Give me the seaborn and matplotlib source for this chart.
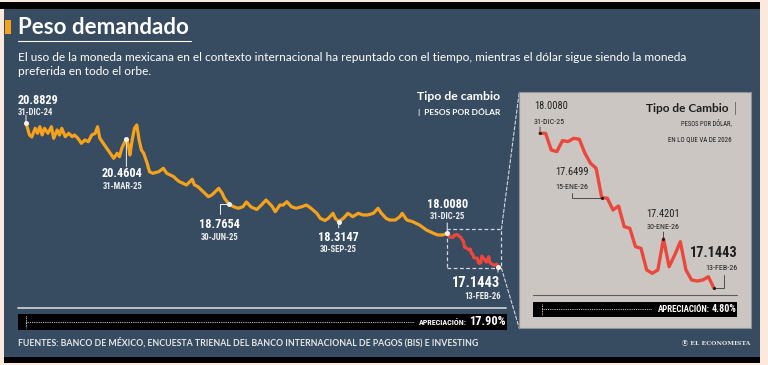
import numpy as np
import pandas as pd
import matplotlib
matplotlib.use("Agg")
import matplotlib.pyplot as plt
import seaborn as sns
from matplotlib.patches import Rectangle, ConnectionPatch
from matplotlib.lines import Line2D

# ---------------- data ----------------
# days since 31-Dec-2024
days_2025 = [0, 3, 5, 8, 10, 12, 14, 16, 19, 22, 24, 27, 29, 31, 34, 37, 40, 42, 45, 48,
             51, 54, 57, 60, 62, 64, 67, 70, 73, 76, 79, 81, 83, 85, 87, 89, 90, 92, 94, 96,
             98, 100, 102, 105, 107, 110, 115, 119, 122, 125, 128, 131, 133, 136, 139, 142,
             144, 146, 149, 152, 155, 158, 161, 164, 167, 170, 172, 176, 180, 184, 188, 191,
             195, 200, 204, 208, 213, 216, 220, 223, 226, 230, 234, 239, 243, 247, 252, 255,
             259, 262, 266, 268, 271, 275, 279, 283, 288, 292, 296, 301, 305, 308, 312, 315,
             320, 324, 326, 330, 335, 341, 347, 353, 357, 361, 365]
peso_2025 = [20.8829, 20.564, 20.512, 20.738, 20.608, 20.779, 20.564, 20.738, 20.608, 20.779,
             20.478, 20.693, 20.564, 20.738, 20.520, 20.608, 20.520, 20.564, 20.478, 20.348,
             20.434, 20.390, 20.564, 20.608, 20.779, 20.478, 20.348, 20.218, 20.089, 19.959,
             20.089, 20.000, 20.218, 20.348, 20.4604, 20.260, 20.044, 20.434, 20.738, 20.823,
             20.434, 20.174, 20.089, 19.829, 19.611, 19.569, 19.611, 19.699, 19.569, 19.525,
             19.481, 19.395, 19.351, 19.310, 19.266, 19.351, 19.414, 19.266, 19.222, 19.136,
             19.050, 18.962, 19.006, 19.092, 19.180, 19.050, 18.920, 18.7654, 18.702, 18.661,
             18.702, 18.824, 18.695, 18.630, 18.746, 18.876, 18.720, 18.572, 18.746, 18.746,
             18.832, 18.702, 18.661, 18.702, 18.746, 18.661, 18.531, 18.401, 18.344, 18.401,
             18.531, 18.401, 18.3147, 18.401, 18.531, 18.443, 18.531, 18.487, 18.487, 18.531,
             18.661, 18.531, 18.401, 18.357, 18.357, 18.443, 18.531, 18.357, 18.313, 18.227,
             18.097, 18.012, 17.968, 17.968, 18.0080]
days_2026 = [365, 366, 367, 370, 371, 372, 373, 374, 377, 378, 379, 380, 381, 384, 385, 386,
             387, 388, 391, 392, 393, 394, 395, 399, 400, 401, 402, 405, 406, 407, 408, 409]
peso_2026 = [18.0080, 18.008, 17.915, 17.906, 17.967, 17.962, 17.980, 17.975, 17.897, 17.841,
             17.813, 17.6499, 17.646, 17.581, 17.603, 17.488, 17.479, 17.377, 17.367, 17.247,
             17.228, 17.247, 17.4201, 17.265, 17.330, 17.404, 17.247, 17.191, 17.185, 17.191,
             17.209, 17.1443]

main_mark_days = [0, 87, 176, 271, 365, 409]
main_mark_dates = ['31-DIC-24', '31-MAR-25', '30-JUN-25', '30-SEP-25', '31-DIC-25', '13-FEB-26']
inset_mark_idx = [0, 11, 22, 31]
inset_mark_dates = ['31-DIC-25', '15-ENE-26', '30-ENE-26', '13-FEB-26']

title = 'Peso demandado'
subtitle = ['El uso de la moneda mexicana en el contexto internacional ha repuntado con el tiempo, mientras el dólar sigue siendo la moneda',
            'preferida en todo el orbe.']
source = 'FUENTES: BANCO DE MÉXICO, ENCUESTA TRIENAL DEL BANCO INTERNACIONAL DE PAGOS (BIS) E INVESTING'

# ---------------- style ----------------
ORANGE = '#f6a21d'
RED = '#eb473d'
PANEL = '#374b61'
PEACH = '#fbe9de'
INSET = '#cbc6c2'
LIGHT = '#d5d9dd'
DARK = '#1e1e1e'

sns.set_theme(style="white")
COND = ['Liberation Sans Narrow', 'Roboto Condensed', 'DejaVu Sans Condensed', 'Roboto', 'DejaVu Sans']
GEO = ['Lato', 'DejaVu Sans']
plt.rcParams['font.family'] = COND

W, H = 768, 365
fig = plt.figure(figsize=(W / 100, H / 100), dpi=100)
fig.patch.set_facecolor(PEACH)


def fx(x):
    return x / W


def fy(y):
    return 1 - y / H


def rect(x0, y0, x1, y1, color, z=-1, **kw):
    fig.add_artist(Rectangle((fx(x0), fy(y1)), (x1 - x0) / W, (y1 - y0) / H,
                             transform=fig.transFigure, facecolor=color,
                             edgecolor='none', zorder=z, **kw))


def hline(x0, x1, y, color, lw, z=4, **kw):
    fig.add_artist(Line2D([fx(x0), fx(x1)], [fy(y), fy(y)], transform=fig.transFigure,
                          color=color, lw=lw, zorder=z, **kw))


def vline(x, y0, y1, color, lw, z=4, **kw):
    fig.add_artist(Line2D([fx(x), fx(x)], [fy(y0), fy(y1)], transform=fig.transFigure,
                          color=color, lw=lw, zorder=z, **kw))


fit_groups = {}


def reg(group, t, w):
    fit_groups.setdefault(group, []).append((t, w))


def T(x, y, s, size, color='white', weight='normal', ha='left', family=COND, fit=None,
      group=None, z=5):
    t = fig.text(fx(x), fy(y), s, fontsize=size, color=color, fontweight=weight, ha=ha,
                 va='center', family=family, zorder=z)
    if fit:
        reg(group or ('t%d' % id(t)), t, fit)
    return t


SLACK = 1.04

# background panels
rect(0, 2, 760, 9, 'black', z=-2)
rect(4, 9, 760, 358, PANEL, z=-2)
rect(4, 357, 760, 363, 'black', z=-2)

# title block
rect(5, 20, 11, 33.5, ORANGE, z=3)
T(18, 27.5, title, 15, weight='bold', family=GEO, fit=172)
hline(18, 190.7, 41, 'white', 0.8)
T(18, 57.3, subtitle[0], 9, family=GEO, fit=674, group='sub')
T(18, 71.7, subtitle[1], 9, family=GEO)

# header of main chart
T(500, 96.7, 'Tipo de cambio', 9, weight='bold', ha='right', family=GEO, fit=83)
T(500, 111.7, '|  PESOS POR DÓLAR', 6, weight='bold', ha='right', family=GEO, fit=83)

# ---------------- main chart ----------------
ax = fig.add_axes([fx(18), fy(300), 492 / W, 210 / H])
ax.set_zorder(1)
df_main = pd.DataFrame({
    'day': days_2025 + days_2026,
    'peso': peso_2025 + peso_2026,
    'tramo': ['2025'] * len(days_2025) + ['2026'] * len(days_2026),
})
sns.lineplot(data=df_main, x='day', y='peso', hue='tramo',
             palette={'2025': ORANGE, '2026': RED}, ax=ax, lw=2.3,
             legend=False, estimator=None, sort=False)
ax.set_xlim(-6.93, 419.4)
ax.set_ylim(16.280, 21.732)
ax.axis('off')

lookup = dict(zip(days_2025, peso_2025))
lookup.update(dict(zip(days_2026, peso_2026)))
main_mark_vals = [lookup[d] for d in main_mark_days]
ax.scatter(main_mark_days, main_mark_vals, s=13, color='#f4f1ec', lw=0, zorder=5)

# label styling: dx, dy_num, dy_date, ha, num width, date width, connector
main_style = [
    (-8, 22.7, 10.7, 'left', 38.4, 35, ('v', 7.7)),
    (-4, -35, -47.6, 'center', 40, 39, ('v', -27.6)),
    (-9.5, -20, -33.7, 'center', 39.3, 37.3, ('a', -9.5, -10)),
    (0, -15.6, -28.3, 'center', 38, 36, ('v', -6.3)),
    (0, 29.2, 16.5, 'center', 38.3, 35, ('v', 10.5)),
    (2.4, -16.6, -30, 'right', 45.7, 35.7, ('v', -5.5)),
]


def connector(axx, x, y, spec, color, lw):
    if spec[0] == 'v':
        axx.annotate('', xy=(x, y), xytext=(0, spec[1]), textcoords='offset pixels',
                     arrowprops=dict(arrowstyle='-', color=color, lw=lw, shrinkA=0, shrinkB=0))
    else:
        axx.annotate('', xy=(x, y), xytext=(spec[1], spec[2]), textcoords='offset pixels',
                     arrowprops=dict(arrowstyle='-', color=color, lw=lw, shrinkA=0, shrinkB=0,
                                     connectionstyle='angle,angleA=90,angleB=0,rad=0'))


for i, (d, v, dt) in enumerate(zip(main_mark_days, main_mark_vals, main_mark_dates)):
    dx, dyn, dyd, ha, wn, wd, con = main_style[i]
    big = (i == len(main_mark_days) - 1)
    tn = ax.annotate(f'{v:.4f}', (d, v), xytext=(dx, dyn), textcoords='offset pixels',
                     ha=ha, va='center', color='white', fontweight='bold',
                     fontsize=11 if big else 8.5, zorder=6)
    td = ax.annotate(dt, (d, v), xytext=(dx, dyd), textcoords='offset pixels',
                     ha=ha, va='center', color='#eeeeee', fontweight='bold',
                     fontsize=6, zorder=6)
    reg('main_big' if big else 'main_num', tn, wn * 1.05)
    reg('main_date', td, wd * SLACK)
    connector(ax, d, v, con, '#e9e9e9', 0.75)

# dashed zoom box
bx0, bx1 = days_2026[0] - 0.5, days_2026[-1] + 3
by0, by1 = min(peso_2026) - 0.04, max(peso_2026) + 0.115
ax.add_patch(Rectangle((bx0, by0), bx1 - bx0, by1 - by0, fill=False, edgecolor=LIGHT,
                       lw=0.9, ls=(0, (3, 2)), zorder=3))

# baseline, appreciation bar, source
hline(18, 506, 307.7, '#c5cbd1', 1.3)
rect(18, 314, 506.7, 329.5, 'black', z=3)
hline(26, 414, 322.3, 'white', 0.6, ls=(0, (1, 1.2)))
vline(26, 315.5, 328, 'white', 0.6, ls=(0, (1, 1)))
app_main = (peso_2025[0] - peso_2026[-1]) / peso_2025[0] * 100
T(467, 322.5, 'APRECIACIÓN:', 6, weight='bold', ha='right', fit=46 * SLACK)
T(506, 321.7, f'{app_main:.2f}%', 10, weight='bold', ha='right', fit=36.7)
T(18, 342.7, source, 6, color='#e6e6e6', weight='bold', family=GEO, fit=458)
T(750, 342.5, 'Ⓔ EL ECONOMISTA', 6, color='#e6e6e6', ha='right', weight='bold',
  family=['DejaVu Serif', 'Noto Sans CJK JP', 'DejaVu Sans'], fit=68)

# ---------------- inset ----------------
ax2 = fig.add_axes([fx(519.3), fy(328.3), 231.4 / W, 236.6 / H])
ax2.set_zorder(2)
ax2.set_facecolor(INSET)
sessions = np.arange(len(peso_2026))
sns.lineplot(x=sessions, y=peso_2026, ax=ax2, color=RED, lw=2.4)
ax2.set_xlim(-3.69, 37.54)
ax2.set_ylim(16.9217, 18.2398)
ax2.set_xticks([])
ax2.set_yticks([])
ax2.set_xlabel('')
ax2.set_ylabel('')
for s in ax2.spines.values():
    s.set_color('#8f9398')
    s.set_linewidth(0.8)

inset_vals = [peso_2026[i] for i in inset_mark_idx]
ax2.scatter(inset_mark_idx, inset_vals, s=5, color=DARK, lw=0, zorder=5)

inset_style = [
    (-6, 27.3, 11.6, 'left', 32.7, 31, ('v', 6.3)),
    (-30, 26, 11, 'center', 31.7, 30.7, ('a', -30, 5)),
    (0, 24.8, 12.1, 'center', 31.7, 31, ('v', 6.8)),
    (23.3, 35.6, 20, 'right', 45.7, 30.7, ('a', 10.3, 13.3)),
]
for i, (k, v, dt) in enumerate(zip(inset_mark_idx, inset_vals, inset_mark_dates)):
    dx, dyn, dyd, ha, wn, wd, con = inset_style[i]
    big = (i == len(inset_mark_idx) - 1)
    tn = ax2.annotate(f'{v:.4f}', (k, v), xytext=(dx, dyn), textcoords='offset pixels',
                      ha=ha, va='center', color=DARK,
                      fontweight='bold' if big else 'normal',
                      fontsize=12 if big else 8.5, zorder=6)
    td = ax2.annotate(dt, (k, v), xytext=(dx, dyd), textcoords='offset pixels',
                      ha=ha, va='center', color=DARK, fontsize=6, zorder=6)
    reg('in_big' if big else 'in_num', tn, wn * 1.04)
    reg('in_date', td, wd * SLACK)
    connector(ax2, k, v, con, '#3a3a3a', 0.6)

T(728.3, 108.3, 'Tipo de Cambio', 9, color=DARK, weight='bold', ha='right', family=GEO, fit=83)
T(735, 108.3, '|', 9, color='#666666', ha='center', family=GEO)
T(731.7, 123.3, 'PESOS POR DÓLAR,', 6, color=DARK, ha='right', fit=50 * SLACK)
T(731.7, 139.3, 'EN LO QUE VA DE 2026', 6, color=DARK, ha='right', fit=61.7 * SLACK)

hline(533.3, 737.3, 295, '#5d5d5d', 0.8, z=4)
rect(533.3, 302.3, 737.3, 316.7, 'black', z=4)
hline(541.7, 651, 309.3, 'white', 0.6, z=5, ls=(0, (1, 1.2)))
vline(541.7, 304, 315, 'white', 0.6, z=5, ls=(0, (1, 1)))
app_in = (peso_2026[0] - peso_2026[-1]) / peso_2026[0] * 100
T(710, 309.8, 'APRECIACIÓN:', 6, weight='bold', ha='right', fit=53.3)
T(736.7, 309.3, f'{app_in:.2f}%', 10, weight='bold', ha='right', fit=25)

# zoom connectors
for (ya, yb) in [(by1, 1), (by0, 0)]:
    cp = ConnectionPatch(xyA=(bx1, ya), coordsA=ax.transData, xyB=(0, yb),
                         coordsB=ax2.transAxes, color=LIGHT, lw=0.8, ls=(0, (3, 2)))
    cp.set_zorder(1.5)
    fig.add_artist(cp)

# ---------------- fit text widths ----------------
fig.canvas.draw()
r = fig.canvas.get_renderer()
for g, items in fit_groups.items():
    ratios = [w / t.get_window_extent(r).width for t, w in items]
    kf = float(np.mean(ratios))
    for t, w in items:
        t.set_fontsize(t.get_fontsize() * kf)
# apply subtitle size to second line
sub_size = fit_groups['sub'][0][0].get_fontsize()
for t in fig.texts:
    if t.get_text() == subtitle[1]:
        t.set_fontsize(sub_size)

fig.savefig('out.png', dpi=100, facecolor=fig.get_facecolor())
